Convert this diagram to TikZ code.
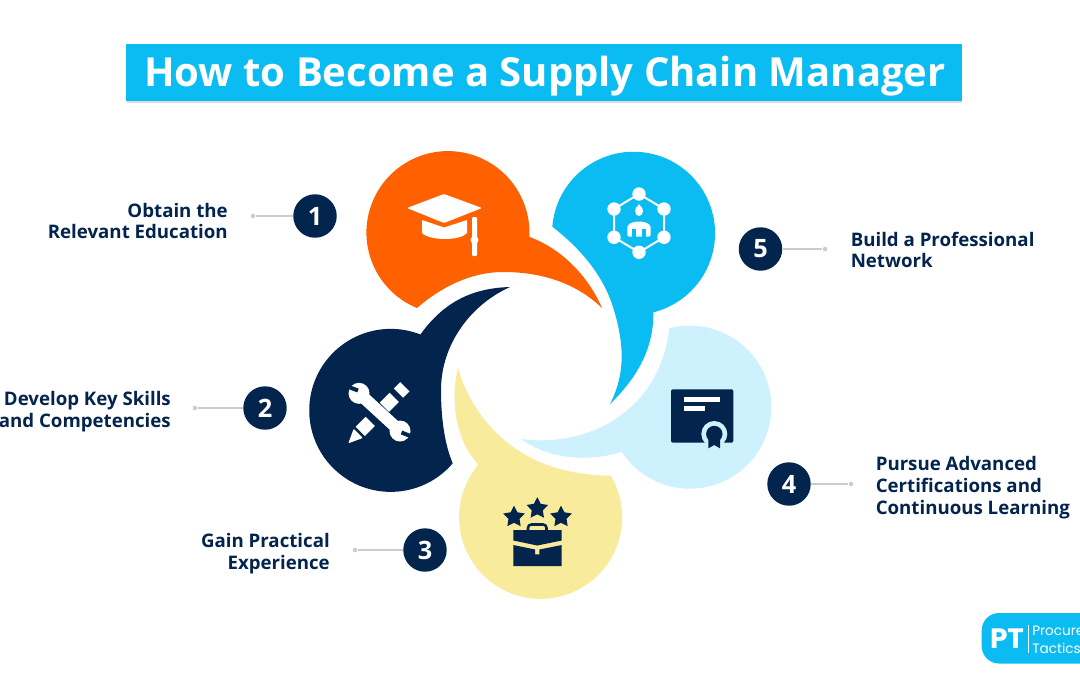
\documentclass[tikz,border=0pt]{standalone}
\usepackage{fontspec}
\setmainfont{Open Sans}
\newfontfamily\popfont{Poppins}
\usetikzlibrary{shapes.geometric}
\definecolor{cOrange}{HTML}{FF6000}
\definecolor{cBlue}{HTML}{0ABCF2}
\definecolor{cLight}{HTML}{CDF2FD}
\definecolor{cYellow}{HTML}{F8EB9C}
\definecolor{cNavy}{HTML}{03244D}
\definecolor{cLine}{HTML}{C5CCD3}
\tikzset{
  numcircle/.style={circle,fill=cNavy,text=white,minimum size=32.6pt,inner sep=0pt,font=\fontsize{19}{19}\selectfont\bfseries},
  enddot/.style={circle,fill=cLine,minimum size=3.4pt,inner sep=0pt},
  leader/.style={draw=cLine,line width=1pt},
  lab/.style={inner sep=0pt,text=cNavy,font=\fontsize{14}{16.4}\selectfont\bfseries},
  labL/.style={lab,anchor=west,align=left},
  labR/.style={lab,anchor=east,align=right},
  starshape/.style={star,star points=5,star point ratio=1.95,fill=cNavy,inner sep=0pt,minimum size=17pt}
}
\begin{document}
\begin{tikzpicture}[x=.75pt,y=.75pt,yscale=-1]
\clip (0,0) rectangle (1080,675);
\fill[white] (0,0) rectangle (1080,675);
% title
\fill[black!14] (126.5,100) rectangle (962,103);
\fill[cBlue] (126,44) rectangle (962,101);
\node[inner sep=0pt,text=white,font=\fontsize{30}{30}\selectfont\bfseries] (title) at (545,76) {How to Become a Supply Chain Manager};
% petals
\fill[cOrange] (417,308) arc[start angle=112.3,end angle=363,radius=81.5]
  .. controls (565,250) and (590,280) .. (602,308)
  .. controls (575,282) and (540,272) .. (503,272)
  .. controls (470,272) and (440,288) .. (417,308) -- cycle;
\fill[cBlue] (552.3,226.7) arc[start angle=184.6,end angle=436,radius=81.5]
  .. controls (654,345) and (640,375) .. (610,404)
  .. controls (625,375) and (625,345) .. (613,307)
  .. controls (603,275) and (580,248) .. (552.3,226.7) -- cycle;
\fill[cLight] (669.3,328.3) arc[start angle=-104.6,end angle=146.8,radius=81.5]
  .. controls (590,462) and (550,460) .. (521,439)
  .. controls (590,448) and (660,410) .. (669.3,328.3) -- cycle;
\fill[cYellow] (610.7,475.7) arc[start angle=-30.7,end angle=220.2,radius=81.5]
  .. controls (458,443) and (449,405) .. (458,368)
  .. controls (470,410) and (510,475) .. (610.7,475.7) -- cycle;
\fill[cNavy] (452.7,463.3) arc[start angle=40.5,end angle=291.4,radius=81.5]
  .. controls (445,300) and (475,288) .. (510,287)
  .. controls (470,305) and (441,345) .. (441,390)
  .. controls (441,420) and (445,445) .. (452.7,463.3) -- cycle;
% cap icon
\fill[white,rounded corners=.8pt] (407,208) -- (444,194) -- (482,208) -- (444,223) -- cycle;
\fill[white] (422,220) -- (444,227.5) -- (467,220) -- (467,233) .. controls (460,241) and (430,241) .. (422,233) -- cycle;
\fill[white,rounded corners=.8pt] (472,217) rectangle (477,256);
\fill[white] (474.5,240) circle (4);
% network icon
\draw[white,line width=1.5pt] (639,194) -- (664,209) -- (664,237.3) -- (639,252.3) -- (614,237.3) -- (614,209) -- cycle;
\foreach \a/\b in {639/194,664/209,664/237.3,639/252.3,614/237.3,614/209}{\fill[white] (\a,\b) circle (6.7);}
\fill[white] (639,211) ellipse (4 and 5);
\fill[white] (639,204) -- (635.5,209) -- (642.5,209) -- cycle;
\fill[white,rounded corners=1.5pt] (627.3,236.7) -- (627.3,225) -- (634,221.7) -- (644,221.7) -- (650.7,225) -- (650.7,236.7) -- cycle;
\fill[cBlue] (632.3,228.5) rectangle (635.7,237);
\fill[cBlue] (642.3,228.5) rectangle (645.7,237);
% tools icon
\fill[white,rounded corners=.6pt] (348.3,443.3) -- (353.6,428.8) -- (362.8,438) -- cycle;
\draw[white,line width=9.75pt] (360.3,431.3) -- (370.2,421.4);
\draw[white,line width=9.75pt] (384.4,407.2) -- (394.3,397.3);
\draw[white,line width=9.75pt] (398.5,393.1) -- (404.9,386.7);
\draw[white,line width=9pt] (359,393.3) -- (400,431);
\fill[white] (359,393.3) circle (10.5);
\fill[white] (400,431) circle (10.5);
\draw[cNavy,line width=3pt] (358,390.5) -- (346,386);
\draw[cNavy,line width=3pt] (401.5,432.5) -- (413,437);
% briefcase icon
\node[starshape] (star1) at (514,517) {};
\node[starshape] (star2) at (537.3,508.5) {};
\node[starshape] (star3) at (561,517) {};
\draw[cNavy,line width=1.9pt,rounded corners=2.5pt] (528,531) -- (528,524.5) -- (546.5,524.5) -- (546.5,531);
\fill[cNavy] (513.3,530) -- (561.7,530) -- (561.7,540.5) -- (537.3,545.5) -- (513.3,540.5) -- cycle;
\fill[cNavy] (513.3,545) -- (535,549.5) -- (535,554.3) -- (539.3,554.3) -- (539.3,549.5) -- (561.7,545) -- (561.7,566) -- (513.3,566) -- cycle;
% certificate icon
\fill[cNavy,rounded corners=1.5pt] (671,389.3) rectangle (733.3,442.7);
\fill[white] (684,396.7) rectangle (720,401.7);
\fill[white] (684,406.3) rectangle (704.7,411.3);
\fill[cLight] (714.3,434) circle (13);
\fill[cLight] (701,443) rectangle (728,450);
\fill[cNavy] (714.3,434) circle (8.2);
\fill[cNavy] (708.3,438) -- (720,438) -- (720,448.3) -- (714.2,445) -- (708.3,448.3) -- cycle;
% numbers and leaders
\node[numcircle] (n1) at (315,216) {1};
\node[numcircle] (n2) at (265,408) {2};
\node[numcircle] (n3) at (425,550) {3};
\node[numcircle] (n4) at (789,484) {4};
\node[numcircle] (n5) at (760.5,249) {5};
\node[enddot] (d1) at (253,216) {};
\node[enddot] (d2) at (195,408) {};
\node[enddot] (d3) at (355,550) {};
\node[enddot] (d4) at (851,484) {};
\node[enddot] (d5) at (825,249) {};
\draw[leader] (n1) -- (d1);
\draw[leader] (n2) -- (d2);
\draw[leader] (n3) -- (d3);
\draw[leader] (n4) -- (d4);
\draw[leader] (n5) -- (d5);
% labels
\node[labR] (t1) at (228,221) {Obtain the\\Relevant Education};
\node[labR] (t2) at (171,412) {Develop Key Skills\\and Competencies};
\node[labR] (t3) at (330,553.5) {Gain Practical\\Experience};
\node[labL] (t4) at (875.5,487.5) {Pursue Advanced\\Certifications and\\Continuous Learning};
\node[labL] (t5) at (850.5,250) {Build a Professional\\Network};
% logo
\fill[cBlue,rounded corners=13pt] (981.7,613) rectangle (1110,663.5);
\node[text=white,inner sep=0pt,font=\fontsize{21}{21}\popfont\bfseries] (pt) at (1007,638.5) {PT};
\draw[white,line width=.4pt] (1028,625) -- (1028,653);
\node[text=white,inner sep=0pt,anchor=west,font=\fontsize{10.2}{10.2}\popfont] (lg1) at (1032,631) {Procure};
\node[text=white,inner sep=0pt,anchor=west,font=\fontsize{10.2}{10.2}\popfont] (lg2) at (1032,648) {Tactics};
\end{tikzpicture}
\end{document}
